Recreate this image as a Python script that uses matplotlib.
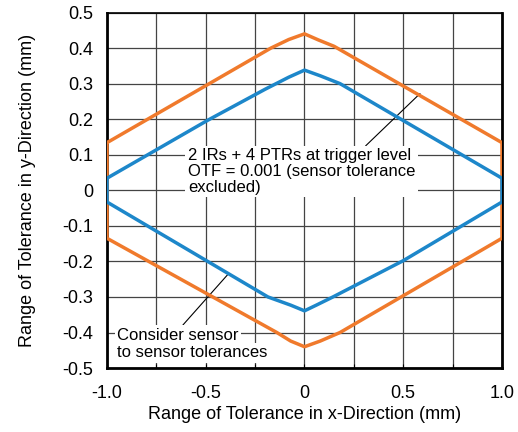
import matplotlib.pyplot as plt
from matplotlib.ticker import MultipleLocator

plt.rcParams["font.family"] = ["Liberation Sans", "DejaVu Sans"]

# Orange: sensor-to-sensor tolerances considered (closed outline)
orange_x = [-1.0, -0.17, -0.08, 0.0, 0.07, 0.15, 1.0,
            1.0, 0.18, 0.08, 0.0, -0.07, -0.14, -1.0, -1.0]
orange_y = [0.134, 0.4, 0.424, 0.44, 0.423, 0.405, 0.134,
            -0.135, -0.4, -0.424, -0.44, -0.424, -0.4, -0.135, 0.134]

# Blue: 2 IRs + 4 PTRs at trigger level, sensor tolerance excluded
blue_x = [-1.0, -0.49, -0.2, -0.08, 0.0, 0.08, 0.18, 1.0,
          1.0, 0.5, 0.144, 0.06, 0.0, -0.07, -0.185, -1.0, -1.0]
blue_y = [0.034, 0.197, 0.284, 0.318, 0.338, 0.322, 0.3, 0.034,
          -0.033, -0.198, -0.3, -0.323, -0.339, -0.323, -0.3, -0.033, 0.034]

x_ticks = [-1.0, -0.5, 0.0, 0.5, 1.0]
x_ticklabels = ["-1.0", "-0.5", "0", "0.5", "1.0"]
y_ticks = [0.5, 0.4, 0.3, 0.2, 0.1, 0.0, -0.1, -0.2, -0.3, -0.4, -0.5]
y_ticklabels = ["0.5", "0.4", "0.3", "0.2", "0.1", "0", "-0.1", "-0.2", "-0.3", "-0.4", "-0.5"]

ORANGE = "#F07A2C"
BLUE = "#1D87CA"
GRID = "#444444"

fig = plt.figure(figsize=(5.18, 4.32), dpi=100)
ax = fig.add_axes([0.2066, 0.148, 0.7624, 0.823])

ax.plot(orange_x, orange_y, color=ORANGE, lw=2.5, zorder=4, solid_joinstyle="round")
ax.plot(blue_x, blue_y, color=BLUE, lw=2.5, zorder=4, solid_joinstyle="round")

ax.set_xlim(-1.0, 1.0)
ax.set_ylim(-0.5, 0.5)
ax.set_xticks(x_ticks)
ax.set_xticklabels(x_ticklabels)
ax.set_yticks(y_ticks)
ax.set_yticklabels(y_ticklabels)
ax.xaxis.set_minor_locator(MultipleLocator(0.25))

ax.tick_params(axis="x", which="both", direction="in", length=3, width=0.8,
               labelsize=13, pad=12)
ax.tick_params(axis="y", which="both", direction="in", length=0, labelsize=13, pad=10)

# grid: every 0.25 in x, every 0.1 in y
ax.set_axisbelow(True)
ax.xaxis.grid(True, which="both", color=GRID, lw=0.9)
ax.yaxis.grid(True, which="major", color=GRID, lw=0.9)

for side in ["left", "bottom", "right"]:
    ax.spines[side].set_linewidth(2.0)
ax.spines["top"].set_linewidth(1.2)

ax.set_xlabel("Range of Tolerance in x-Direction (mm)", fontsize=13, labelpad=3)
ax.set_ylabel("Range of Tolerance in y-Direction (mm)", fontsize=13, labelpad=19)

# --- annotations with white boxes hiding the grid ---
box = dict(boxstyle="square,pad=0.15", fc="white", ec="none")
ax.annotate(
    "2 IRs + 4 PTRs at trigger level\nOTF = 0.001 (sensor tolerance\nexcluded)",
    xy=(0.585, 0.272), xytext=(-0.59, 0.118),
    ha="left", va="top", fontsize=12, linespacing=1.05, bbox=box, zorder=3,
    arrowprops=dict(arrowstyle="-", color="black", lw=0.8, relpos=(0.77, 1.0),
                    shrinkA=0, shrinkB=0),
)
ax.annotate(
    "Consider sensor",
    xy=(-0.387, -0.236), xytext=(-0.947, -0.386),
    ha="left", va="top", fontsize=12, bbox=box, zorder=3,
    arrowprops=dict(arrowstyle="-", color="black", lw=0.8, relpos=(0.52, 1.0),
                    shrinkA=0, shrinkB=0),
)
ax.text(-0.947, -0.436, "to sensor tolerances", ha="left", va="top",
        fontsize=12, bbox=box, zorder=3)

fig.savefig("out.png", dpi=100)
